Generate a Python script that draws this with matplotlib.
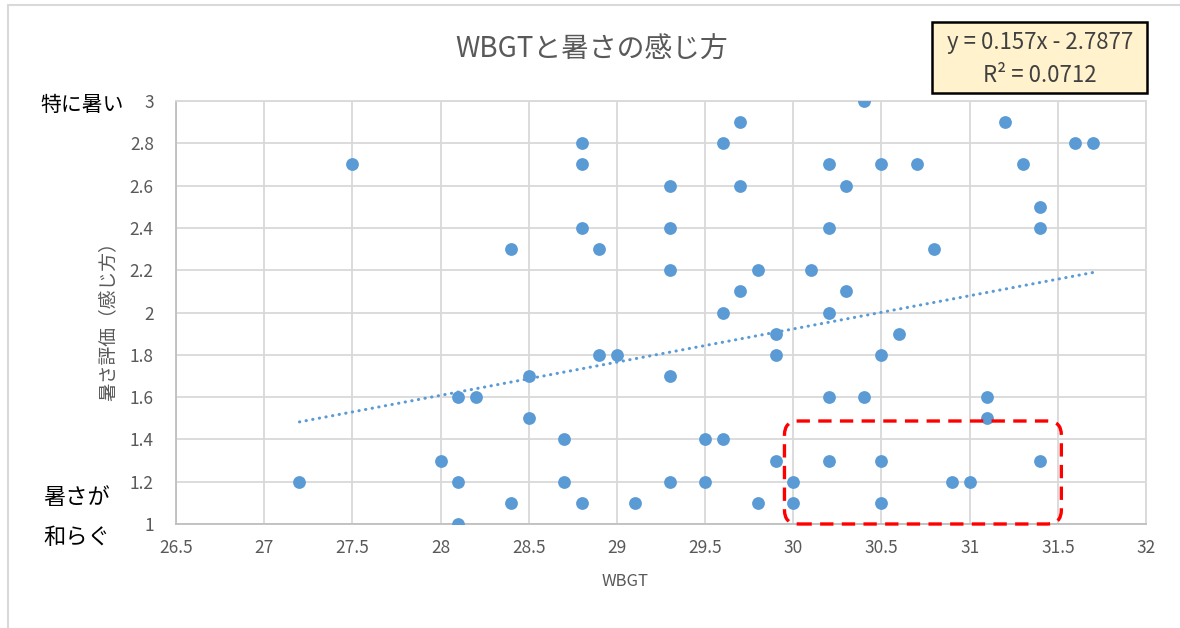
import matplotlib.pyplot as plt
from matplotlib.patches import FancyBboxPatch, Rectangle
from matplotlib.transforms import IdentityTransform
import numpy as np

plt.rcParams['font.family'] = ['Noto Sans CJK JP', 'DejaVu Sans']

# data
wbgt = [27.2, 27.5, 28.0, 28.1, 28.1, 28.1, 28.2, 28.4, 28.4, 28.5,
        28.5, 28.7, 28.7, 28.8, 28.8, 28.8, 28.8, 28.9, 28.9, 29.0,
        29.1, 29.3, 29.3, 29.3, 29.3, 29.3, 29.5, 29.5, 29.6, 29.6,
        29.6, 29.7, 29.7, 29.7, 29.8, 29.8, 29.9, 29.9, 29.9, 30.0,
        30.0, 30.1, 30.2, 30.2, 30.2, 30.2, 30.2, 30.3, 30.3, 30.4,
        30.4, 30.5, 30.5, 30.5, 30.5, 30.6, 30.7, 30.8, 30.9, 31.0,
        31.1, 31.1, 31.2, 31.3, 31.4, 31.4, 31.4, 31.6, 31.7]
score = [1.2, 2.7, 1.3, 1.6, 1.2, 1.0, 1.6, 2.3, 1.1, 1.7,
         1.5, 1.4, 1.2, 2.8, 2.7, 2.4, 1.1, 2.3, 1.8, 1.8,
         1.1, 2.6, 2.4, 2.2, 1.7, 1.2, 1.4, 1.2, 2.8, 2.0,
         1.4, 2.9, 2.6, 2.1, 2.2, 1.1, 1.9, 1.8, 1.3, 1.2,
         1.1, 2.2, 2.7, 2.4, 2.0, 1.6, 1.3, 2.6, 2.1, 3.0,
         1.6, 2.7, 1.8, 1.3, 1.1, 1.9, 2.7, 2.3, 1.2, 1.2,
         1.6, 1.5, 2.9, 2.7, 2.5, 2.4, 1.3, 2.8, 2.8]

slope = 0.157
intercept = -2.7877
r2 = 0.0712

x_ticks = [26.5, 27, 27.5, 28, 28.5, 29, 29.5, 30, 30.5, 31, 31.5, 32]
y_ticks = [1, 1.2, 1.4, 1.6, 1.8, 2, 2.2, 2.4, 2.6, 2.8, 3]

# highlighted region (red dashed box)
box_x = [29.95, 31.52]
box_y = [1.0, 1.487]

blue = '#5B9BD5'
grey = '#595959'

fig = plt.figure(figsize=(11.8, 6.28), dpi=100)
ax = fig.add_axes([176/1180, 1-524/628, 970/1180, 423/628])

# outer chart frame
fig.patches.append(Rectangle((8/1180, -0.1), 1.2, 1.1 - 5/628, transform=fig.transFigure,
                             fill=False, edgecolor='#D9D9D9', lw=1.5))

ax.scatter(wbgt, score, s=85, color=blue, zorder=3, linewidths=0)

tx = np.array([min(wbgt), max(wbgt)])
ax.plot(tx, slope*tx + intercept, color=blue, lw=2.2, linestyle=(0, (0.1, 2.1)),
        dash_capstyle='round', zorder=2)

ax.set_xlim(26.5, 32)
ax.set_ylim(1, 3)
ax.set_xticks(x_ticks)
ax.set_xticklabels(['%g' % v for v in x_ticks])
ax.set_yticks(y_ticks)
ax.set_yticklabels(['%g' % v for v in y_ticks])
ax.tick_params(length=0, labelsize=12.5, labelcolor=grey)
ax.tick_params(axis='x', pad=11)
ax.tick_params(axis='y', pad=16)
ax.grid(True, color='#D9D9D9', lw=1.3)
ax.set_axisbelow(True)
for s in ax.spines.values():
    s.set_color('#D9D9D9')
    s.set_linewidth(1.3)
ax.spines['left'].set_color('#BFBFBF')
ax.spines['bottom'].set_color('#BFBFBF')

ax.set_xlabel('WBGT', fontsize=12, color=grey)
ax.xaxis.set_label_coords((625-176)/970, -(573-524)/423)
ax.set_ylabel('暑さ評価（感じ方）', fontsize=13.5, color=grey)
ax.yaxis.set_label_coords(-(176-119)/970, 0.49)

fig.text(592/1180, 1-50/628, 'WBGTと暑さの感じ方', fontsize=20, color=grey,
         ha='center', va='center')

fig.text(82/1180, 1-105/628, '特に暑い', fontsize=15, ha='center', va='center')
fig.text(77/1180, 1-497/628, '暑さが', fontsize=16, ha='center', va='center')
fig.text(77/1180, 1-537/628, '和らぐ', fontsize=16, ha='center', va='center')

# equation box
fig.patches.append(Rectangle((932/1180, 1-93/628), 215/1180, 71/628,
                             transform=fig.transFigure, facecolor='#FFF2CC',
                             edgecolor='black', lw=1.8))
fig.text(1040/1180, 1-43/628, 'y = %gx - %g' % (slope, -intercept), fontsize=16,
         color='#404040', ha='center', va='center')
fig.text(1040/1180, 1-75/628, 'R² = %g' % r2, fontsize=16,
         color='#404040', ha='center', va='center')

# red dashed rounded box in pixel space
(x0, y0), (x1, y1) = ax.transData.transform([(box_x[0], box_y[0]), (box_x[1], box_y[1])])
ax.add_patch(FancyBboxPatch((x0, y0), x1 - x0, y1 - y0,
                            boxstyle='round,pad=0,rounding_size=14',
                            transform=IdentityTransform(), fill=False,
                            edgecolor='#FF0000', lw=2.4, linestyle=(0, (4, 2.5)),
                            clip_on=False, zorder=4))

fig.savefig('out.png', dpi=100)
